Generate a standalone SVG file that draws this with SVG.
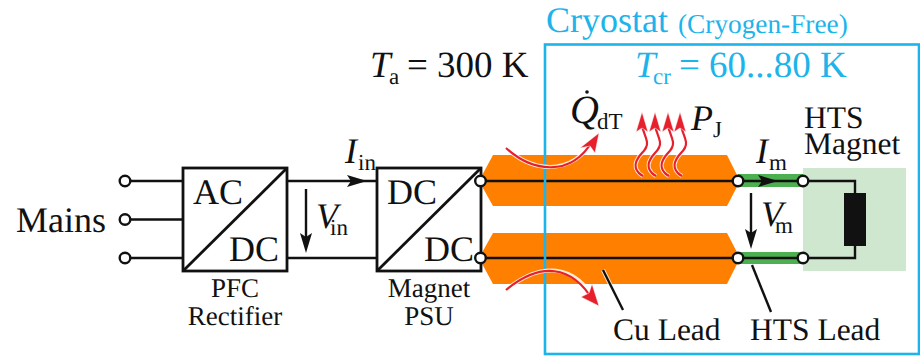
<svg xmlns="http://www.w3.org/2000/svg" width="920" height="356" viewBox="0 0 920 356">
<style>
text{font-family:"Liberation Serif","Times New Roman",serif;fill:#111;text-rendering:geometricPrecision}
.l{font-size:36px}.t{font-size:37px}.s{font-size:23px}.m{font-size:27px}.h{font-size:31.500px}
.i{font-style:italic}
.c{fill:#1cb4ea}
.w{fill:none;stroke:#111;stroke-width:2.400}
.b{fill:#fff;stroke:#111;stroke-width:2.800}
.d{fill:none;stroke:#111;stroke-width:2.800}
.o{fill:#fff;stroke:#111;stroke-width:2.400}
.or{fill:#ff8000}
.gr{fill:#4caf50}
.halo{fill:none;stroke:#fff;stroke-width:4;stroke-opacity:.85}
.red{fill:none;stroke:#e6202c;stroke-width:2.200}
.redh{fill:#e6202c;stroke:#fff;stroke-width:.7;stroke-opacity:.7}
.ah{fill:#111}
</style>
<g id="magnet-area"><rect x="803" y="168" width="103" height="103" fill="#cfe6cf"/></g>
<g id="cu-lead-top"><polygon class="or" points="479,181 493,155 727,155 740,181 727,206 493,206"/></g>
<g id="cu-lead-bottom"><polygon class="or" points="479,258 493,233 727,233 740,258 727,284 493,284"/></g>
<g id="hts-lead-top"><rect class="gr" x="738" y="174" width="65" height="13"/></g>
<g id="hts-lead-bottom"><rect class="gr" x="738" y="252" width="65" height="12"/></g>
<g id="connectors">
<path class="w" d="M125 181H183M125 219.500H183M125 258H183"/>
<path class="w" d="M287 181H377M287 258H377"/>
<path class="w" d="M481 181H803H855V193M481 258H803H855V246"/>
<path class="w" d="M306 189V240"/>
<polygon class="ah" points="306,253 300,233 306,237 312,233"/>
<polygon class="ah" points="367,181 347,175 351,181 347,187"/>
<polygon class="ah" points="778,181 758,175 762,181 758,187"/>
<path class="w" d="M751 193V236"/>
<polygon class="ah" points="751,249 745,229 751,233 757,229"/>
<path class="halo" d="M603 270L623 310"/>
<path class="w" d="M603 270L623 310"/>
<path class="w" d="M752 265L771 312"/>
</g>
<g id="pfc-rectifier">
<rect class="b" x="183" y="168" width="104" height="103"/>
<path class="d" d="M183 271L287 168"/>
<text class="l" x="193" y="204">AC</text>
<text class="l" x="229" y="261">DC</text>
<text class="m" x="235" y="297" text-anchor="middle">PFC</text>
<text class="m" x="235" y="325" text-anchor="middle">Rectifier</text>
</g>
<g id="magnet-psu">
<rect class="b" x="377" y="168" width="104" height="103"/>
<path class="d" d="M377 271L481 168"/>
<text class="l" x="387" y="204">DC</text>
<text class="l" x="424" y="261">DC</text>
<text class="m" x="429" y="297" text-anchor="middle">Magnet</text>
<text class="m" x="429" y="325" text-anchor="middle">PSU</text>
</g>
<g id="terminals">
<circle class="o" cx="125" cy="181" r="5.300"/><circle class="o" cx="125" cy="219.500" r="5.300"/><circle class="o" cx="125" cy="258" r="5.300"/>
<circle class="o" cx="480.500" cy="181" r="5.300"/><circle class="o" cx="480.500" cy="258" r="5.300"/>
<circle class="o" cx="738" cy="181" r="5.300"/><circle class="o" cx="738" cy="258" r="5.300"/>
<circle class="o" cx="803" cy="181" r="5.300"/><circle class="o" cx="803" cy="258" r="5.300"/>
</g>
<g id="hts-magnet">
<rect x="844" y="193" width="22" height="53" fill="#111"/>
<text class="h" x="804" y="128">HTS</text>
<text class="h" x="804" y="154">Magnet</text>
</g>
<g id="cryostat">
<rect x="545" y="44.500" width="374" height="309.500" fill="none" stroke="#1cb4ea" stroke-width="2.600"/>
<text class="c" style="font-size:36px" x="546" y="32">Cryostat</text>
<text class="c" style="font-size:27.300px" x="678" y="33">(Cryogen-Free)</text>
<text class="c t i" x="635" y="77">T</text>
<text class="c s" x="653" y="84">cr</text>
<text class="c t" x="679" y="77">= 60...80 K</text>
</g>
<g id="heat-flows">
<path class="halo" d="M506 148C530 170 570 180 596 137"/>
<path class="red" d="M506 148C530 170 570 180 593 140"/>
<polygon class="redh" points="599,133 595,153 590,146 580,148"/>
<path class="halo" d="M506 290C540 262 575 262 597 304"/>
<path class="red" d="M506 290C540 262 572 264 594 302"/>
<polygon class="redh" points="599,306 581,297 589,293 592,284"/>
<g id="joule-heat">
<path class="halo" d="M643 176C636 172 634 166 637 160C640 153 648 150 647 142C646 136 643 132 642 125"/>
<path class="halo" d="M656 176C649 172 647 166 650 160C653 153 661 150 660 142C659 136 656 132 655 125"/>
<path class="halo" d="M669 176C662 172 660 166 663 160C666 153 674 150 673 142C672 136 669 132 668 125"/>
<path class="halo" d="M682 176C675 172 673 166 676 160C679 153 687 150 686 142C685 136 682 132 681 125"/>
<path class="red" d="M643 176C636 172 634 166 637 160C640 153 648 150 647 142C646 136 643 132 642 125"/>
<path class="red" d="M656 176C649 172 647 166 650 160C653 153 661 150 660 142C659 136 656 132 655 125"/>
<path class="red" d="M669 176C662 172 660 166 663 160C666 153 674 150 673 142C672 136 669 132 668 125"/>
<path class="red" d="M682 176C675 172 673 166 676 160C679 153 687 150 686 142C685 136 682 132 681 125"/>
<polygon class="redh" points="642,112 648,132 642,128 636,132"/>
<polygon class="redh" points="655,112 661,132 655,128 649,132"/>
<polygon class="redh" points="668,112 674,132 668,128 662,132"/>
<polygon class="redh" points="680,112 686,132 680,128 674,132"/>
</g>
</g>
<g id="labels">
<text class="l" x="16" y="232">Mains</text>
<text class="t i" x="370" y="77">T</text><text class="s" x="389" y="84">a</text><text class="t" x="407" y="77">= 300 K</text>
<text class="l i" x="345" y="163">I</text><text class="s" x="358" y="170">in</text>
<text class="l i" x="316" y="228">V</text><text class="s" x="330" y="235">in</text>
<text class="l i" x="756" y="163">I</text><text class="s" x="769" y="170">m</text>
<text class="l i" x="761" y="226">V</text><text class="s" x="775" y="233">m</text>
<text style="font-size:40px" class="i" x="570" y="123">Q</text><circle cx="587" cy="92" r="1.800" fill="#111"/><text class="s" x="597" y="129">dT</text>
<text class="l i" x="691" y="130">P</text><text class="s" x="713" y="137">J</text>
<text class="h" x="613" y="340">Cu Lead</text>
<text class="h" x="750" y="340">HTS Lead</text>
</g>
</svg>
